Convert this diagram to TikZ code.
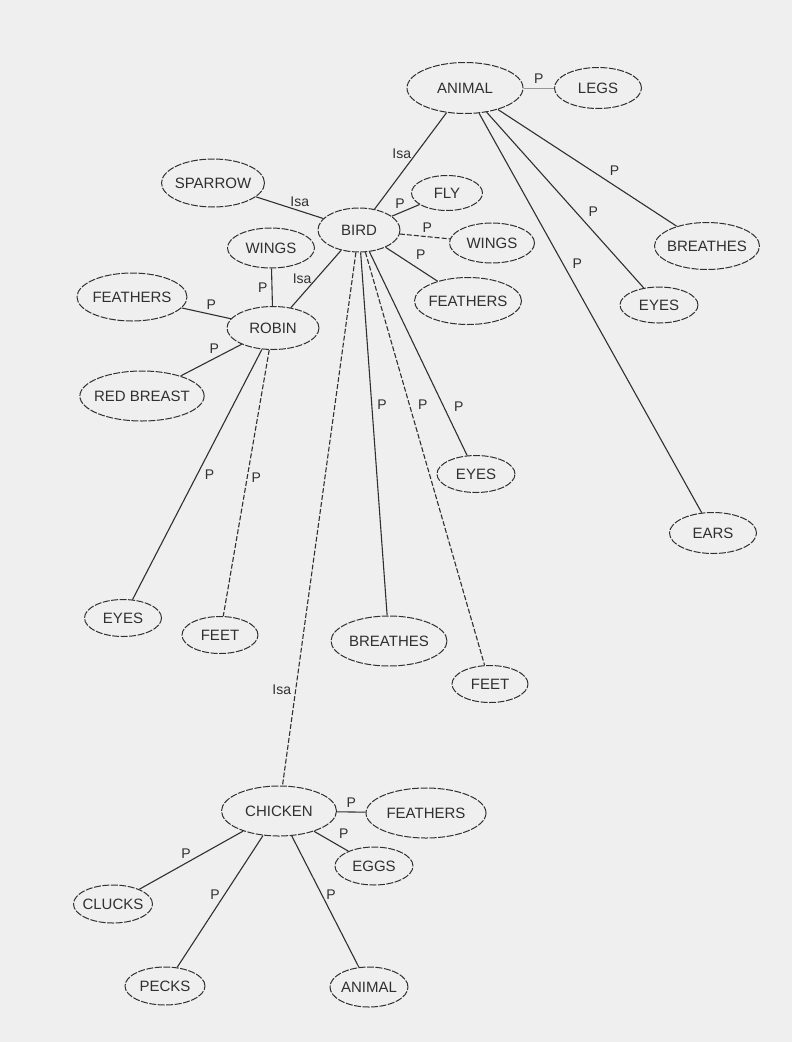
\documentclass[tikz,border=0pt]{standalone}
\usepackage{fontspec}
\setmainfont{Liberation Sans}
\usepackage{tikz}
\usetikzlibrary{shapes.geometric}
\definecolor{paper}{RGB}{239,239,239}
\definecolor{ink}{RGB}{48,48,48}
\definecolor{faint}{RGB}{150,150,150}
\begin{document}
\begin{tikzpicture}[x=1pt,y=-1pt,line join=bevel,
    concept/.style 2 args={ellipse,draw=ink,line width=1pt,dash pattern=on 7pt off 1.5pt,
        minimum width=#1pt,minimum height=#2pt,inner xsep=-4pt,inner ysep=0pt,
        text=ink,font=\fontsize{15}{17}\selectfont},
    rel/.style={text=ink,inner sep=4pt,font=\fontsize{14}{16}\selectfont},
    link/.style={draw=ink,line width=1.1pt},
    dlink/.style={link,dash pattern=on 5pt off 2pt}]
            %
            \fill [paper] (0,0) rectangle (792,1042);
            \useasboundingbox (0,0) rectangle (792,1042);
            %
            \node (animal) at (465,88) [concept={116}{51}] {ANIMAL};
            \node (legs) at (598,88) [concept={87}{41}] {LEGS};
            \node (breathesA) at (707,246) [concept={105}{47}] {BREATHES};
            \node (eyesA) at (659,305) [concept={78}{36}] {EYES};
            \node (ears) at (713,533) [concept={87}{41}] {EARS};
            %
            \node (bird) at (359,230) [concept={82}{44}] {BIRD};
            \node (sparrow) at (213,183) [concept={103}{48}] {SPARROW};
            \node (fly) at (447,193) [concept={71}{35}] {FLY};
            \node (wingsB) at (492,243) [concept={85}{40}] {WINGS};
            \node (feathersB) at (468,301) [concept={107}{47}] {FEATHERS};
            \node (eyesB) at (476,474) [concept={78}{37}] {EYES};
            \node (breathesB) at (389,641) [concept={116}{50}] {BREATHES};
            \node (feetB) at (490,684) [concept={76}{37}] {FEET};
            %
            \node (robin) at (273,328) [concept={92}{43}] {ROBIN};
            \node (wingsR) at (271,248) [concept={87}{40}] {WINGS};
            \node (feathersR) at (132,297) [concept={110}{48}] {FEATHERS};
            \node (redbreast) at (142,396) [concept={122}{50}] {RED BREAST};
            \node (eyesR) at (123,618) [concept={77}{37}] {EYES};
            \node (feetR) at (220,635) [concept={76}{37}] {FEET};
            %
            \node (chicken) at (279,811) [concept={115}{50}] {CHICKEN};
            \node (feathersC) at (426,813) [concept={120}{50}] {FEATHERS};
            \node (eggs) at (374,866) [concept={78}{38}] {EGGS};
            \node (clucks) at (113,904) [concept={79}{38}] {CLUCKS};
            \node (pecks) at (165,986) [concept={80}{38}] {PECKS};
            \node (animalC) at (369,987) [concept={78}{40}] {ANIMAL};
            %
            \draw [link,draw=faint,line width=0.7pt] (animal) -- node[rel,midway,above] {P} (legs);
            \draw [link] (animal) -- node[rel,pos=0.43,left] {Isa} (bird);
            \draw [link] (animal) -- node[rel,pos=0.6,above right] {P} (breathesA);
            \draw [link] (animal) -- node[rel,pos=0.62,above right] {P} (eyesA);
            \draw [link] (animal) -- node[rel,pos=0.4,above right] {P} (ears);
            %
            \draw [link] (sparrow) -- node[rel,pos=0.65,above] {Isa} (bird);
            \draw [link] (bird) -- node[rel,pos=0.3,above] {P} (fly);
            \draw [dlink] (bird) -- node[rel,pos=0.55,above] {P} (wingsB);
            \draw [link] (bird) -- node[rel,pos=0.5,above right] {P} (feathersB);
            \draw [link] (bird) -- node[rel,pos=0.5,left] {Isa} (robin);
            \draw [link] (bird) -- node[rel,pos=0.76,right=6pt] {P} (eyesB);
            \draw [link] (bird) -- node[rel,pos=0.42,right=1pt] {P} (breathesB);
            \draw [dlink] (bird) -- node[rel,pos=0.37,right=4pt] {P} (feetB);
            \draw [dlink] (bird) -- node[rel,pos=0.82,left] {Isa} (chicken);
            %
            \draw [link] (robin) -- node[rel,midway,left] {P} (wingsR);
            \draw [link] (feathersR) -- node[rel,pos=0.6,above] {P} (robin);
            \draw [link] (redbreast) -- node[rel,pos=0.55,above] {P} (robin);
            \draw [link] (robin) -- node[rel,pos=0.5,right=3pt] {P} (eyesR);
            \draw [dlink] (robin) -- node[rel,pos=0.48,right] {P} (feetR);
            %
            \draw [link] (chicken) -- node[rel,midway,above] {P} (feathersC);
            \draw [link] (chicken) -- node[rel,pos=0.6,above right] {P} (eggs);
            \draw [link] (chicken) -- node[rel,pos=0.55,above] {P} (clucks);
            \draw [link] (chicken) -- node[rel,pos=0.45,left] {P} (pecks);
            \draw [link] (chicken) -- node[rel,pos=0.45,right] {P} (animalC);
            %
\end{tikzpicture}
\end{document}
